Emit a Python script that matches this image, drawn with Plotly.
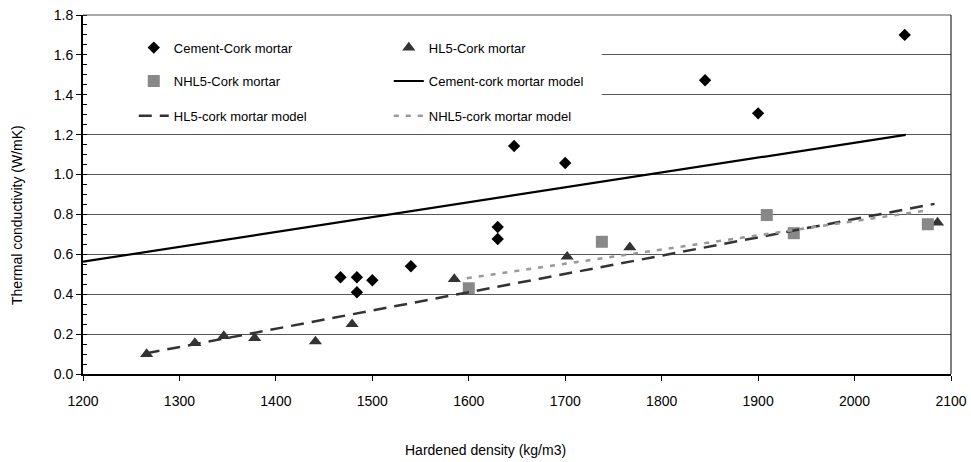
import plotly.graph_objects as go

# ---- data ----
cement_x = [1467, 1484, 1484, 1500, 1540, 1630, 1630, 1647, 1700, 1845, 1900, 2052]
cement_y = [0.485, 0.485, 0.41, 0.47, 0.54, 0.677, 0.737, 1.143, 1.058, 1.473, 1.307, 1.70]

hl5_x = [1266, 1316, 1346, 1378, 1441, 1479, 1585, 1702, 1767, 2086]
hl5_y = [0.10, 0.155, 0.19, 0.18, 0.163, 0.25, 0.476, 0.588, 0.635, 0.759]

nhl5_x = [1600, 1738, 1909, 1937, 2076]
nhl5_y = [0.43, 0.663, 0.797, 0.706, 0.751]

cement_model_x = [1200, 2053]
cement_model_y = [0.563, 1.199]

hl5_model_x = [1266, 2083]
hl5_model_y = [0.104, 0.853]

nhl5_model_x = [1598, 2075]
nhl5_model_y = [0.48, 0.82]

x_ticks = [1200, 1300, 1400, 1500, 1600, 1700, 1800, 1900, 2000, 2100]
y_ticks = [0.0, 0.2, 0.4, 0.6, 0.8, 1.0, 1.2, 1.4, 1.6, 1.8]

FONT = "Liberation Sans, Arial, sans-serif"

fig = go.Figure()

fig.add_trace(go.Scatter(x=cement_x, y=cement_y, mode="markers", name="Cement-Cork mortar",
                         marker=dict(symbol="diamond", size=9.5, color="black"), legend="legend"))
fig.add_trace(go.Scatter(x=hl5_x, y=hl5_y, mode="markers", name="HL5-Cork mortar",
                         marker=dict(symbol="triangle-up", size=11.5, color="#333333"), legend="legend"))
fig.add_trace(go.Scatter(x=nhl5_x, y=nhl5_y, mode="markers", name="NHL5-Cork mortar",
                         marker=dict(symbol="square", size=12, color="#888888"), legend="legend2"))
fig.add_trace(go.Scatter(x=cement_model_x, y=cement_model_y, mode="lines", name="Cement-cork mortar model",
                         line=dict(color="black", width=2.2), legend="legend2"))
fig.add_trace(go.Scatter(x=hl5_model_x, y=hl5_model_y, mode="lines", name="HL5-cork mortar model",
                         line=dict(color="#333333", width=2.5, dash="13px,8px"), legend="legend3"))
fig.add_trace(go.Scatter(x=nhl5_model_x, y=nhl5_model_y, mode="lines", name="NHL5-cork mortar model",
                         line=dict(color="#999999", width=2.5, dash="5px,7px"), legend="legend3"))

leg_common = dict(orientation="h", xanchor="left", yanchor="middle", x=0.0585,
                  entrywidth=210, entrywidthmode="pixels", bgcolor="rgba(0,0,0,0)",
                  font=dict(family=FONT, size=13, color="black"), traceorder="normal")

fig.update_layout(
    width=971, height=462,
    margin=dict(l=83, r=20, t=15, b=88, autoexpand=False),
    plot_bgcolor="white", paper_bgcolor="white",
    font=dict(family=FONT, size=14, color="black"),
    legend=dict(y=0.909, **leg_common),
    legend2=dict(y=0.816, **leg_common),
    legend3=dict(y=0.719, **leg_common),
    xaxis=dict(range=[1200, 2100], tickvals=x_ticks, ticks="outside", ticklen=5,
               tickcolor="black", showline=True, linecolor="black", linewidth=2,
               showgrid=False, zeroline=False, tickfont=dict(size=14), ticklabelstandoff=8),
    yaxis=dict(range=[0, 1.8], tickvals=y_ticks, tickformat=".1f", ticks="outside", ticklen=5,
               tickcolor="black", showline=True, linecolor="black", linewidth=2,
               showgrid=True, gridcolor="#555555", gridwidth=1, zeroline=False,
               tickfont=dict(size=14),
               minor=dict(dtick=0.05, ticks="inside", ticklen=4, tickcolor="black", showgrid=False)),
    showlegend=True,
)

# white area behind legend that hides the gridlines
fig.add_shape(type="rect", xref="x", yref="y", x0=1201, x1=1738, y0=1.25, y1=1.79,
              fillcolor="white", line=dict(width=0), layer="between")
# top and right frame
fig.add_shape(type="line", xref="paper", yref="paper", x0=0, x1=1, y0=1, y1=1,
              line=dict(color="#555555", width=1))
fig.add_shape(type="line", xref="paper", yref="paper", x0=1, x1=1, y0=0, y1=1,
              line=dict(color="black", width=1))

fig.add_annotation(text="Hardened density (kg/m3)", xref="paper", yref="paper",
                   x=0.464, y=-0.212, showarrow=False, xanchor="center", yanchor="middle",
                   font=dict(family=FONT, size=14, color="black"))
fig.add_annotation(text="Thermal conductivity (W/mK)", xref="paper", yref="paper",
                   x=-0.076, y=0.443, showarrow=False, textangle=-90, xanchor="center", yanchor="middle",
                   font=dict(family=FONT, size=14, color="black"))

fig.write_html("out.html")
